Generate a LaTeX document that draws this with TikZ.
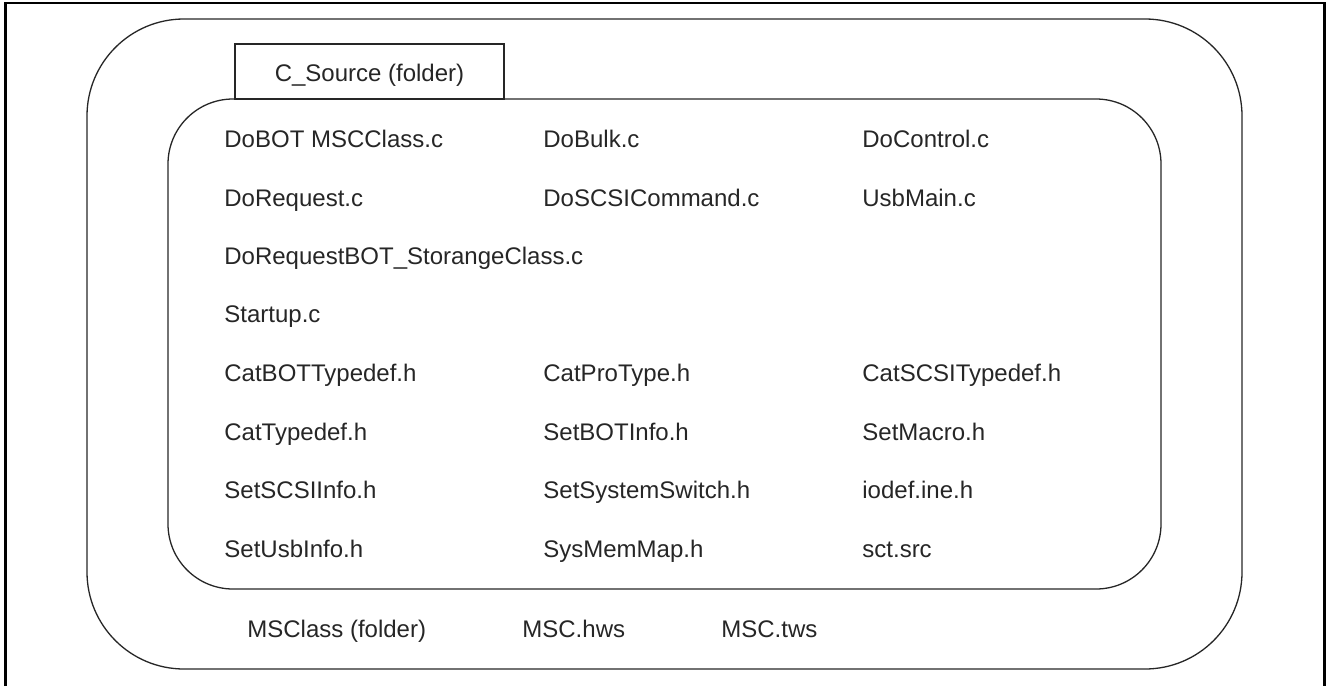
\documentclass[tikz,border=0pt]{standalone}
\usepackage{fontspec}
\setmainfont{Liberation Sans}
\begin{document}
\begin{tikzpicture}[x=0.5pt,y=-0.5pt,
  frameline/.style={line width=1.3pt,black},
  roundbox/.style={draw=black!85,line width=0.65pt},
  item/.style={anchor=base west,inner sep=0pt,text=black!85,font=\fontsize{12}{14}\selectfont}]
\useasboundingbox (0,0) rectangle (1328,686);
% outer page frame (open at bottom)
\draw[frameline] (5.3,686) -- (5.3,2.8) -- (1324.2,2.8) -- (1324.2,686);
% outer rounded container
\draw[roundbox,rounded corners=48.5pt] (87,19) rectangle (1242,669);
% folder label tab
\draw[roundbox] (235,44) rectangle (504,99);
\node[item,anchor=base] (csrc) at (369.5,81) {C\_Source (folder)};
% inner rounded container
\draw[roundbox,rounded corners=32.5pt] (168,99) rectangle (1161,589);
% file rows
\node[item] (a1) at (224,147) {DoBOT MSCClass.c};
\node[item] (a2) at (543,147) {DoBulk.c};
\node[item] (a3) at (862,147) {DoControl.c};
\node[item] (b1) at (224,206) {DoRequest.c};
\node[item] (b2) at (543,206) {DoSCSICommand.c};
\node[item] (b3) at (862,206) {UsbMain.c};
\node[item] (c1) at (224,264) {DoRequestBOT\_StorangeClass.c};
\node[item] (d1) at (224,322) {Startup.c};
\node[item] (e1) at (224,381) {CatBOTTypedef.h};
\node[item] (e2) at (543,381) {CatProType.h};
\node[item] (e3) at (862,381) {CatSCSITypedef.h};
\node[item] (f1) at (224,440) {CatTypedef.h};
\node[item] (f2) at (543,440) {SetBOTInfo.h};
\node[item] (f3) at (862,440) {SetMacro.h};
\node[item] (g1) at (224,498) {SetSCSIInfo.h};
\node[item] (g2) at (543,498) {SetSystemSwitch.h};
\node[item] (g3) at (862,498) {iodef.ine.h};
\node[item] (h1) at (224,557) {SetUsbInfo.h};
\node[item] (h2) at (543,557) {SysMemMap.h};
\node[item] (h3) at (862,557) {sct.src};
% bottom row
\node[item] (m1) at (247,637) {MSClass (folder)};
\node[item] (m2) at (522,637) {MSC.hws};
\node[item] (m3) at (721,637) {MSC.tws};
\end{tikzpicture}
\end{document}
